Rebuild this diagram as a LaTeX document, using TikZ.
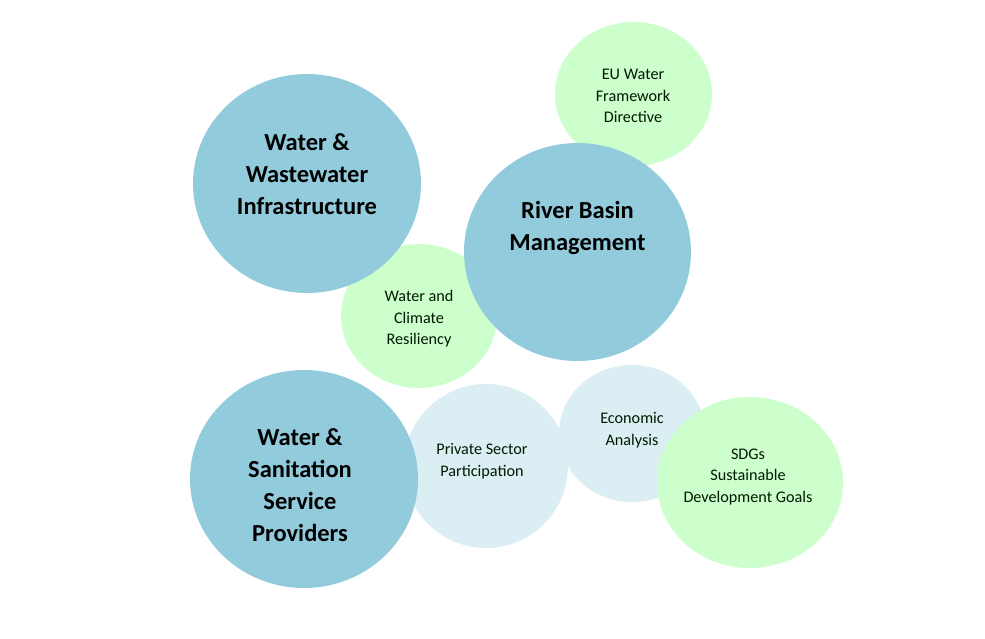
\documentclass[tikz,border=0pt]{standalone}
\usepackage{fontspec}
\setmainfont{Carlito}
\usetikzlibrary{shapes.geometric}
\definecolor{cblue}{HTML}{92CBDB}
\definecolor{cgreen}{HTML}{CCFFCC}
\definecolor{clight}{HTML}{DAEEF3}
\tikzset{
  blob/.style={ellipse, inner sep=0pt, draw=none},
  bigblob/.style={blob, fill=cblue},
  greenblob/.style={blob, fill=cgreen},
  lightblob/.style={blob, fill=clight},
  bigtext/.style={align=center, font=\bfseries\fontsize{24.5}{32}\selectfont, text=black},
  smalltext/.style={align=center, font=\fontsize{16.2}{21.5}\selectfont, text=black!90!green},
}
\begin{document}
\begin{tikzpicture}[x=1pt,y=-1pt]
\useasboundingbox (0,0) rectangle (985,638);
% back layer
\node[greenblob, minimum width=157pt, minimum height=144pt] (eu) at (633.5,94) {};
\node[greenblob, minimum width=156pt, minimum height=144pt] (wcr) at (419,316) {};
\node[lightblob, minimum width=164pt, minimum height=164pt] (psp) at (486,466) {};
\node[lightblob, minimum width=146pt, minimum height=137pt] (eco) at (632,433.5) {};
\node[greenblob, minimum width=186pt, minimum height=171pt] (sdg) at (750,482.5) {};
% front layer
\node[bigblob, minimum width=228pt, minimum height=219pt] (wwi) at (307,183.5) {};
\node[bigblob, minimum width=227pt, minimum height=218pt] (rbm) at (577.5,252) {};
\node[bigblob, minimum width=228pt, minimum height=218pt] (wsp) at (304,479) {};
% texts
\node[bigtext] (wwit) at (307,174) {Water \&\\Wastewater\\Infrastructure};
\node[bigtext] (rbmt) at (577.5,228) {River Basin\\Management};
\node[bigtext] (wspt) at (300,485) {Water \&\\Sanitation\\Service\\Providers};
\node[smalltext] (eut) at (633,96) {EU Water\\Framework\\Directive};
\node[smalltext] (wcrt) at (419,319) {Water and\\Climate\\Resiliency};
\node[smalltext] (pspt) at (482,461) {Private Sector\\Participation};
\node[smalltext] (ecot) at (632,430) {Economic\\Analysis};
\node[smalltext] (sdgt) at (748,477) {SDGs\\Sustainable\\Development Goals};
\end{tikzpicture}
\end{document}
